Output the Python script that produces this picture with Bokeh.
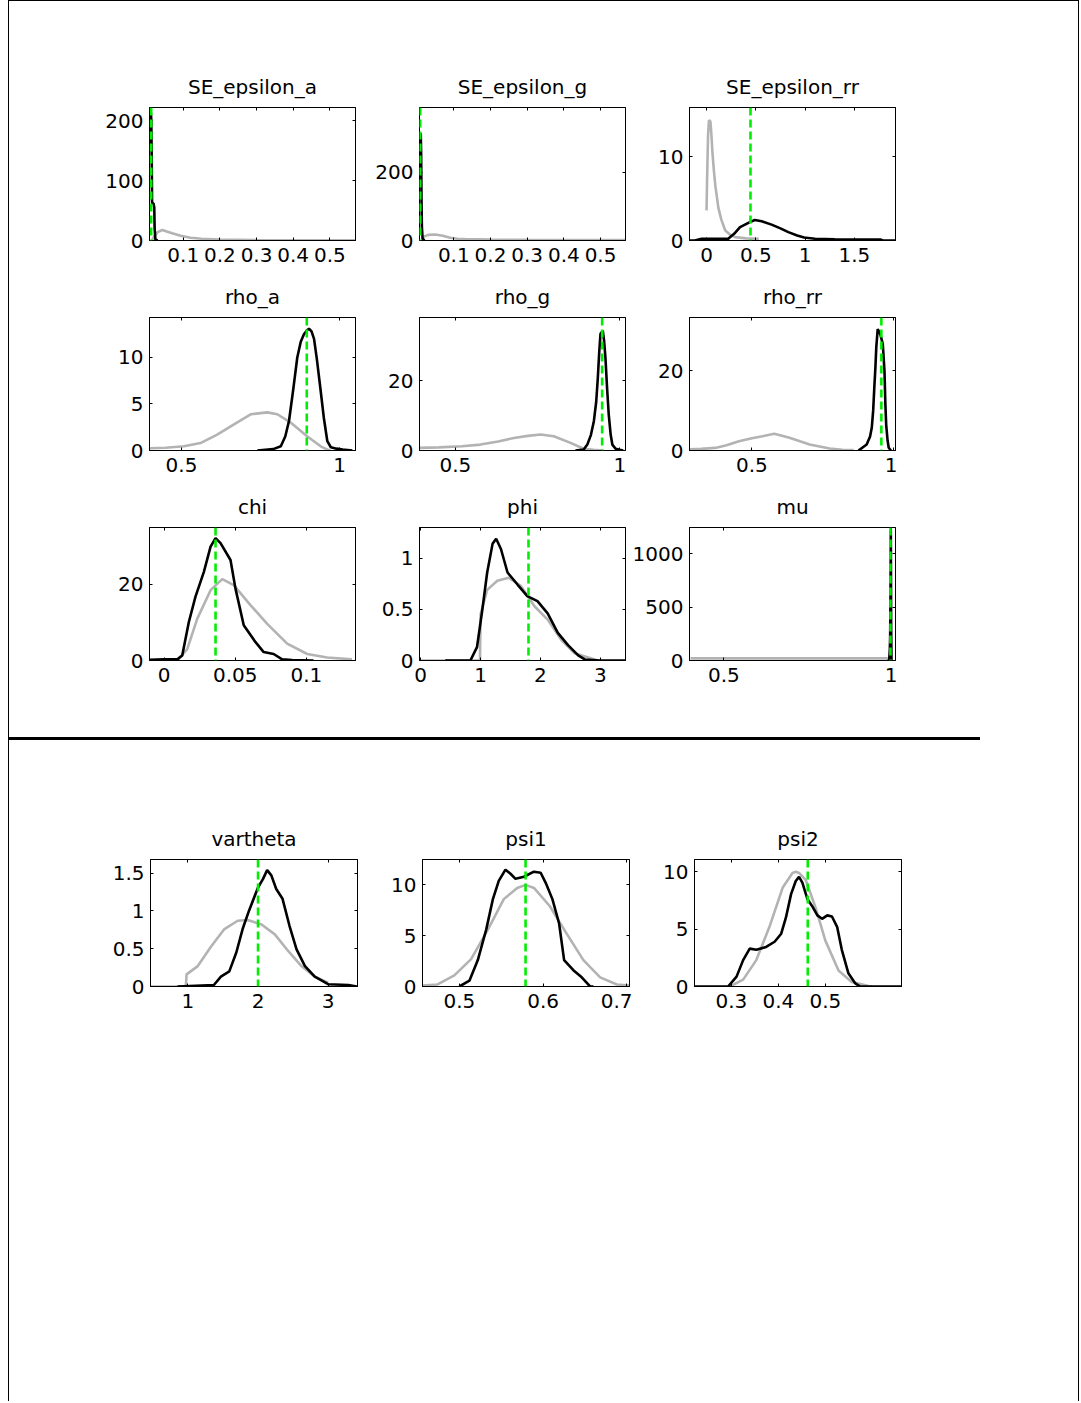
from bokeh.plotting import figure
from bokeh.models import Range1d, LinearAxis, FixedTicker, CustomJSTickFormatter, Span, Spacer, Div
from bokeh.layouts import row, column
from bokeh.embed import file_html
from bokeh.resources import INLINE

# ---------------- data ----------------
titles = ["SE_epsilon_a", "SE_epsilon_g", "SE_epsilon_rr",
          "rho_a", "rho_g", "rho_rr",
          "chi", "phi", "mu",
          "vartheta", "psi1", "psi2"]

# axis limits per panel (x_lo, x_hi) and y upper limit
x_lims = [(0.008, 0.57), (0.0065, 0.568), (-0.173, 1.918),
          (0.399, 1.05), (0.391, 1.017), (0.279, 1.008),
          (-0.0102, 0.1345), (-0.02, 3.42), (0.397, 1.013),
          (0.465, 3.42), (0.456, 0.703), (0.2215, 0.662)]
y_tops = [222, 389, 15.9, 14.3, 38.2, 33.4, 34.8, 1.3, 1248, 1.68, 12.5, 11.07]

x_ticks = [[0.1, 0.2, 0.3, 0.4, 0.5], [0.1, 0.2, 0.3, 0.4, 0.5], [0, 0.5, 1, 1.5],
           [0.5, 1], [0.5, 1], [0.5, 1],
           [0, 0.05, 0.1], [0, 1, 2, 3], [0.5, 1],
           [1, 2, 3], [0.5, 0.6, 0.7], [0.3, 0.4, 0.5]]
y_ticks = [[0, 100, 200], [0, 200], [0, 10],
           [0, 5, 10], [0, 20], [0, 20],
           [0, 20], [0, 0.5, 1], [0, 500, 1000],
           [0, 0.5, 1, 1.5], [0, 5, 10], [0, 5, 10]]

# posterior modes (green dashed)
modes = [0.0126, 0.0084, 0.446, 0.896, 0.946, 0.958, 0.0362, 1.80, 0.998, 2.0, 0.579, 0.4625]

# priors (grey)
se_a_prior_x = [0.015, 0.02, 0.03, 0.043, 0.055, 0.07, 0.093, 0.12, 0.15, 0.2, 0.3, 0.4, 0.5, 0.57]
se_a_prior_y = [1, 6, 14, 17.5, 15, 12, 8, 4.5, 3, 1.5, 0.8, 0.5, 0.3, 0.2]
se_g_prior_x = [0.012, 0.02, 0.03, 0.05, 0.07, 0.09, 0.11, 0.13, 0.2, 0.3, 0.4, 0.568]
se_g_prior_y = [3, 12, 16.5, 17.5, 14, 8, 5, 4, 2.5, 1.8, 1.4, 1.0]
se_rr_prior_x = [0.0, 0.005, 0.015, 0.025, 0.04, 0.05, 0.06, 0.075, 0.09, 0.12, 0.15, 0.19, 0.24, 0.29, 0.4, 0.53]
se_rr_prior_y = [3.6, 7, 12.5, 14.4, 14.2, 12.5, 10.5, 8.3, 6.5, 3.9, 2.5, 1.2, 0.7, 0.4, 0.25, 0.2]
rho_a_prior_x = [0.40, 0.45, 0.508, 0.56, 0.613, 0.666, 0.72, 0.771, 0.803, 0.845, 0.898, 0.94, 0.961, 0.97]
rho_a_prior_y = [0.25, 0.3, 0.46, 0.8, 1.7, 2.8, 3.9, 4.1, 3.9, 3.0, 1.5, 0.45, 0.1, 0.0]
rho_g_prior_x = [0.391, 0.45, 0.52, 0.576, 0.63, 0.678, 0.72, 0.759, 0.799, 0.85, 0.89, 0.92, 0.95]
rho_g_prior_y = [0.75, 0.9, 1.2, 1.7, 2.6, 3.6, 4.2, 4.6, 4.1, 2.2, 0.5, 0.2, 0.0]
rho_rr_prior_x = [0.28, 0.32, 0.37, 0.41, 0.454, 0.5, 0.537, 0.579, 0.633, 0.67, 0.704, 0.775, 0.82, 0.86]
rho_rr_prior_y = [0.3, 0.4, 0.65, 1.3, 2.3, 3.1, 3.6, 4.2, 3.2, 2.3, 1.5, 0.5, 0.2, 0.1]
chi_prior_x = [0.0093, 0.0163, 0.0233, 0.0327, 0.0409, 0.049, 0.0607, 0.0725, 0.0865, 0.1006, 0.1146, 0.132]
chi_prior_y = [0.0, 3.0, 10.9, 18.4, 21.3, 19.7, 14.5, 9.6, 4.4, 1.7, 0.8, 0.3]
phi_prior_x = [-0.02, 0.99, 1.0, 1.11, 1.28, 1.47, 1.67, 1.9, 2.12, 2.35, 2.57, 2.85, 2.95]
phi_prior_y = [0.0, 0.0, 0.45, 0.69, 0.78, 0.81, 0.73, 0.53, 0.4, 0.2, 0.07, 0.02, 0.0]
mu_prior_x = [0.4, 0.99]
mu_prior_y = [20, 20]
vartheta_prior_x = [0.47, 0.97, 0.98, 1.14, 1.33, 1.52, 1.71, 1.85, 2.05, 2.24, 2.43, 2.62, 2.81, 3.0]
vartheta_prior_y = [0, 0, 0.16, 0.27, 0.53, 0.76, 0.87, 0.88, 0.82, 0.69, 0.47, 0.27, 0.13, 0.05]
psi1_prior_x = [0.456, 0.474, 0.494, 0.514, 0.534, 0.553, 0.569, 0.579, 0.589, 0.608, 0.628, 0.648, 0.668, 0.688, 0.703]
psi1_prior_y = [0.1, 0.2, 1.1, 2.7, 5.6, 8.6, 9.7, 10.0, 9.7, 7.9, 5.2, 2.6, 0.9, 0.2, 0.1]
psi2_prior_x = [0.297, 0.325, 0.353, 0.381, 0.409, 0.43, 0.437, 0.444, 0.458, 0.479, 0.5, 0.528, 0.556, 0.592, 0.6]
psi2_prior_y = [0, 0.6, 2.3, 5.2, 8.6, 9.9, 10.0, 9.9, 9.3, 6.9, 4.0, 1.4, 0.4, 0.05, 0]

# posteriors (black)
se_a_post_x = [0.008, 0.009, 0.011, 0.013, 0.014, 0.015, 0.016, 0.019, 0.021, 0.022, 0.024, 0.03]
se_a_post_y = [150, 215, 220, 200, 140, 64, 62, 62, 55, 20, 2, 0]
se_g_post_x = [0.0065, 0.008, 0.009, 0.010, 0.011, 0.012, 0.013, 0.015, 0.02]
se_g_post_y = [200, 300, 313, 310, 250, 120, 40, 5, 0]
se_rr_post_x = [-0.17, -0.12, -0.05, 0.1, 0.22, 0.28, 0.34, 0.44, 0.49, 0.56, 0.66, 0.75, 0.83, 0.92, 0.99, 1.1, 1.3, 1.5, 1.7, 1.77, 1.79, 1.918]
se_rr_post_y = [0.0, 0.0, 0.2, 0.2, 0.2, 0.8, 1.6, 2.2, 2.45, 2.3, 1.9, 1.45, 1.0, 0.6, 0.35, 0.2, 0.15, 0.12, 0.1, 0.1, 0.0, 0.0]
rho_a_post_x = [0.74, 0.79, 0.814, 0.828, 0.84, 0.853, 0.866, 0.877, 0.887, 0.896, 0.903, 0.911, 0.919, 0.928, 0.94, 0.95, 0.961, 0.972, 0.99, 1.01, 1.04]
rho_a_post_y = [0.0, 0.15, 0.45, 1.5, 3.2, 6.5, 10.0, 11.7, 12.5, 12.9, 13.1, 12.8, 12.0, 9.8, 6.4, 3.5, 1.0, 0.35, 0.2, 0.1, 0.0]
rho_g_post_x = [0.865, 0.89, 0.901, 0.912, 0.921, 0.928, 0.933, 0.937, 0.941, 0.948, 0.952, 0.956, 0.961, 0.966, 0.972, 0.977, 0.987, 1.0, 1.01]
rho_g_post_y = [0.0, 0.3, 1.7, 4.5, 8.5, 14.0, 21, 28.0, 33.5, 34.4, 31.5, 26.7, 18.0, 10.4, 4.5, 1.7, 0.5, 0.2, 0.0]
rho_rr_post_x = [0.877, 0.906, 0.918, 0.924, 0.929, 0.933, 0.937, 0.94, 0.945, 0.954, 0.963, 0.969, 0.972, 0.975, 0.98, 0.984, 0.992]
rho_rr_post_y = [0.0, 1.5, 3.5, 5.7, 10.0, 15.8, 21.0, 25.9, 30.5, 29.3, 26.7, 20.0, 12.0, 6.5, 2.5, 0.7, 0.0]
chi_post_x = [-0.0102, 0.0, 0.0093, 0.0128, 0.0174, 0.0221, 0.028, 0.0327, 0.0362, 0.0397, 0.0467, 0.0502, 0.056, 0.0643, 0.07, 0.077, 0.083, 0.09, 0.105]
chi_post_y = [0.2, 0.3, 0.3, 1.3, 10.0, 16.7, 23.2, 29.8, 32.0, 30.7, 26.3, 18.8, 9.2, 4.8, 2.2, 1.7, 0.3, 0.1, 0.0]
phi_post_x = [0.41, 0.83, 0.94, 1.03, 1.11, 1.2, 1.26, 1.34, 1.45, 1.62, 1.78, 1.95, 2.12, 2.29, 2.46, 2.63, 2.74, 3.0, 3.42]
phi_post_y = [0.0, 0.0, 0.13, 0.5, 0.86, 1.14, 1.19, 1.09, 0.86, 0.74, 0.63, 0.58, 0.46, 0.27, 0.15, 0.05, 0.01, 0.0, 0.0]
mu_post_x = [0.99, 0.994, 0.996, 0.997, 0.998, 0.999, 1.0, 1.001]
mu_post_y = [0, 5, 100, 220, 600, 1220, 300, 0]
vartheta_post_x = [0.85, 1.37, 1.47, 1.59, 1.69, 1.78, 1.87, 2.0, 2.07, 2.13, 2.19, 2.26, 2.35, 2.45, 2.55, 2.67, 2.81, 3.0, 3.29, 3.41]
vartheta_post_y = [0, 0.02, 0.13, 0.2, 0.45, 0.76, 1.0, 1.31, 1.42, 1.54, 1.47, 1.29, 1.16, 0.8, 0.49, 0.27, 0.13, 0.03, 0.02, 0]
psi1_post_x = [0.5, 0.512, 0.522, 0.532, 0.54, 0.547, 0.555, 0.561, 0.567, 0.577, 0.589, 0.597, 0.603, 0.611, 0.619, 0.625, 0.636, 0.646, 0.656, 0.66]
psi1_post_y = [0, 0.57, 2.6, 5.6, 8.6, 10.4, 11.5, 11.1, 10.6, 10.8, 11.3, 11.2, 10.2, 8.6, 6.2, 2.6, 1.6, 0.9, 0, 0]
psi2_post_x = [0.2215, 0.293, 0.311, 0.325, 0.339, 0.353, 0.374, 0.392, 0.406, 0.416, 0.427, 0.437, 0.444, 0.451, 0.462, 0.472, 0.483, 0.493, 0.504, 0.514, 0.525, 0.535, 0.549, 0.563, 0.574, 0.662]
psi2_post_y = [0, 0, 0.86, 2.3, 3.3, 3.2, 3.45, 3.9, 4.6, 6.0, 8.05, 9.2, 9.55, 9.05, 7.6, 7.0, 6.2, 5.9, 6.2, 6.1, 5.2, 3.2, 1.15, 0.3, 0, 0]

priors = [(se_a_prior_x, se_a_prior_y), (se_g_prior_x, se_g_prior_y), (se_rr_prior_x, se_rr_prior_y),
          (rho_a_prior_x, rho_a_prior_y), (rho_g_prior_x, rho_g_prior_y), (rho_rr_prior_x, rho_rr_prior_y),
          (chi_prior_x, chi_prior_y), (phi_prior_x, phi_prior_y), (mu_prior_x, mu_prior_y),
          (vartheta_prior_x, vartheta_prior_y), (psi1_prior_x, psi1_prior_y), (psi2_prior_x, psi2_prior_y)]
posts = [(se_a_post_x, se_a_post_y), (se_g_post_x, se_g_post_y), (se_rr_post_x, se_rr_post_y),
         (rho_a_post_x, rho_a_post_y), (rho_g_post_x, rho_g_post_y), (rho_rr_post_x, rho_rr_post_y),
         (chi_post_x, chi_post_y), (phi_post_x, phi_post_y), (mu_post_x, mu_post_y),
         (vartheta_post_x, vartheta_post_y), (psi1_post_x, psi1_post_y), (psi2_post_x, psi2_post_y)]

# ---------------- styling ----------------
FONT = "DejaVu Sans"
FS = "20px"
TFS = "20px"
LABEL_FMT = "return String(Number(tick.toFixed(6)));"
EMPTY_FMT = "return '';"


def style_axis(ax, ticks, show, standoff):
    ax.ticker = FixedTicker(ticks=ticks)
    ax.minor_tick_line_color = None
    ax.major_tick_in = 3
    ax.major_tick_out = 0
    ax.axis_line_color = "black"
    ax.axis_line_width = 1
    ax.major_tick_line_color = "black"
    ax.major_label_text_font = FONT
    ax.major_label_text_color = "black"
    if show:
        ax.formatter = CustomJSTickFormatter(code=LABEL_FMT)
        ax.major_label_text_font_size = FS
        ax.major_label_standoff = standoff
    else:
        ax.formatter = CustomJSTickFormatter(code=EMPTY_FMT)
        ax.major_label_text_font_size = "1px"
        ax.major_label_standoff = 0


def make_panel(i, W, H, fw, fh, top=45, left=62):
    x0, x1 = x_lims[i]
    p = figure(width=W, height=H, output_backend="svg", toolbar_location=None,
               x_range=Range1d(x0, x1), y_range=Range1d(0, y_tops[i]),
               min_border_left=left, min_border_right=W - left - fw,
               min_border_top=top, min_border_bottom=H - top - fh,
               background_fill_color="white", border_fill_color="white")
    p.grid.visible = False
    p.outline_line_color = "black"
    p.outline_line_width = 1
    p.title.text = titles[i]
    p.title.align = "center"
    p.title.text_font = FONT
    p.title.text_font_size = TFS
    p.title.text_font_style = "normal"
    p.title.text_color = "black"
    p.title.standoff = 17
    style_axis(p.xaxis[0], x_ticks[i], True, 7)
    style_axis(p.yaxis[0], y_ticks[i], True, 6)
    top_ax = LinearAxis()
    right_ax = LinearAxis()
    style_axis(top_ax, x_ticks[i], False, 0)
    style_axis(right_ax, y_ticks[i], False, 0)
    p.add_layout(top_ax, "above")
    p.add_layout(right_ax, "right")

    px, py = priors[i]
    qx, qy = posts[i]
    p.line(px, py, line_color="#b3b3b3", line_width=2.6)
    p.line(qx, qy, line_color="black", line_width=2.6)
    p.add_layout(Span(location=modes[i], dimension="height", line_color="#00ee00",
                      line_width=2.6, line_dash="8 4"))
    return p


panels_top = [make_panel(i, 270, 210, 206, 133) for i in range(9)]
panels_bot = [make_panel(i, 272, 204, 207, 127) for i in range(9, 12)]

MAIN_W = 1069
LINE_H = 1400


def black_div(w, h):
    return Div(text="", width=w, height=h, margin=(0, 0, 0, 0),
               styles={"background-color": "black"})


main = column(
    Spacer(width=MAIN_W, height=61),
    row(Spacer(width=78, height=10), *panels_top[0:3]),
    row(Spacer(width=78, height=10), *panels_top[3:6]),
    row(Spacer(width=78, height=10), *panels_top[6:9]),
    Spacer(width=10, height=45),
    black_div(971, 3),
    Spacer(width=10, height=74),
    row(Spacer(width=79, height=10), *panels_bot),
)

framed = column(black_div(MAIN_W + 2, 1),
                row(black_div(1, LINE_H), main, black_div(1, LINE_H)))
page = row(Spacer(width=8, height=10), framed)

open("out.html", "w").write(file_html(page, INLINE, title="plot"))
